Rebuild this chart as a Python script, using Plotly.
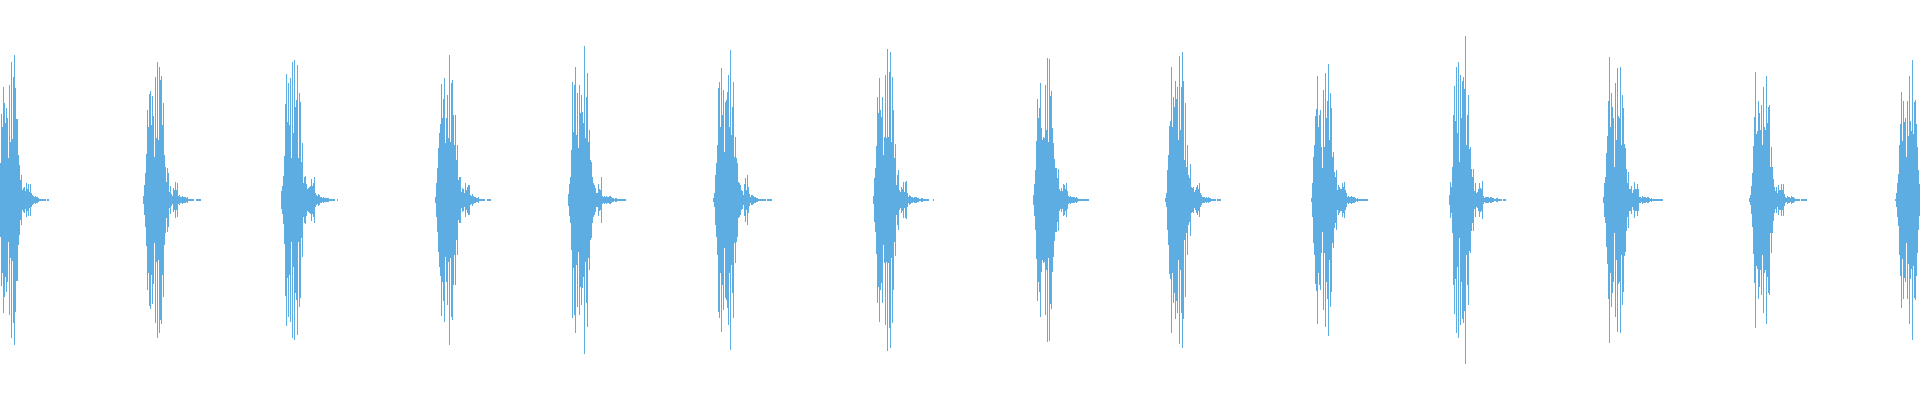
"""
plot.py - audio waveform overview: fourteen percussive hits, drawn as
mirrored per-pixel peak bars around a zero line.
"""
import plotly.graph_objects as go

WAVE_COLOR = "#5dade2"
N_COLS = 1920          # one column of peak data per screen pixel

# column where each hit begins
HIT_START = [0, 143, 281, 435, 568, 713, 873, 1033, 1165, 1311, 1449, 1603, 1749, 1895]

# peak amplitude per column (0 = silent column)
HIT_01 = [37, 86, 73, 113, 97, 77, 92, 82, 42, 115, 58, 138, 61, 123, 145, 112, 81, 81, 45, 35,
          20, 25, 10, 12, 13, 9, 17, 11, 16, 8, 16, 7, 5, 4, 3, 4, 3, 3, 2, 1, 1, 1, 1, 1, 1, 1, 0, 1, 1]
HIT_02 = [4, 15, 27, 46, 90, 73, 106, 109, 75, 104, 84, 43, 123, 62, 138, 60, 133, 120, 124, 75,
          97, 45, 33, 18, 32, 27, 8, 14, 6, 4, 12, 10, 18, 10, 17, 4, 5, 3, 3, 4, 3, 3, 3, 2, 3,
          1, 1, 1, 1, 1, 1, 0, 0, 1, 1, 1, 1, 1]
HIT_03 = [9, 14, 24, 44, 96, 126, 78, 117, 75, 122, 42, 138, 67, 140, 93, 100, 135, 42, 107, 98,
          38, 57, 17, 23, 24, 16, 11, 12, 13, 14, 21, 14, 17, 23, 7, 5, 4, 6, 5, 3, 3, 2, 3, 2, 2,
          2, 2, 2, 1, 1, 1, 1, 1, 1, 0, 0, 1]
HIT_04 = [3, 17, 32, 52, 67, 76, 116, 82, 101, 122, 57, 82, 105, 62, 145, 58, 117, 120, 85, 55,
          85, 40, 55, 20, 23, 23, 8, 12, 11, 7, 17, 10, 13, 15, 15, 5, 4, 6, 4, 3, 3, 2, 2, 3, 1,
          1, 1, 1, 1, 1, 0, 0, 1, 1, 1, 1]
HIT_05 = [6, 16, 23, 50, 118, 68, 115, 133, 65, 107, 52, 115, 87, 105, 88, 77, 154, 62, 103, 127,
          58, 70, 40, 38, 23, 17, 15, 12, 7, 7, 16, 11, 10, 23, 4, 3, 4, 3, 4, 3, 3, 4, 4, 3, 2,
          2, 1, 2, 2, 1, 1, 1, 1, 1, 1, 1, 1, 1]
HIT_06 = [2, 7, 25, 37, 55, 112, 118, 73, 132, 85, 110, 48, 98, 100, 108, 125, 73, 150, 65, 93,
          118, 43, 63, 42, 37, 18, 17, 15, 10, 9, 5, 16, 22, 10, 25, 13, 6, 3, 5, 5, 4, 3, 3, 2, 2,
          1, 1, 1, 1, 1, 1, 1, 1, 0, 1, 1, 1, 1, 1]
HIT_07 = [4, 22, 32, 54, 103, 87, 122, 90, 83, 103, 45, 63, 125, 62, 151, 63, 128, 148, 58, 123,
          90, 42, 56, 15, 25, 30, 10, 8, 13, 11, 18, 8, 18, 19, 7, 3, 5, 4, 3, 3, 2, 3, 3, 3, 2,
          2, 1, 1, 2, 2, 1, 1, 1, 1, 1, 1, 0, 0, 0, 0, 1]
HIT_08 = [5, 16, 30, 59, 101, 82, 92, 117, 72, 60, 63, 62, 115, 70, 142, 58, 141, 104, 109, 72,
          57, 41, 32, 32, 22, 31, 11, 9, 12, 9, 16, 15, 11, 17, 9, 4, 3, 4, 3, 3, 3, 3, 2, 3, 2,
          1, 1, 1, 1, 1, 1, 1, 1, 1, 1, 1]
HIT_09 = [2, 7, 30, 45, 74, 79, 133, 73, 103, 93, 119, 101, 113, 60, 144, 70, 113, 148, 119, 40,
          97, 33, 55, 25, 22, 36, 13, 12, 13, 8, 10, 13, 15, 11, 17, 7, 5, 3, 3, 3, 2, 3, 2, 3, 2,
          2, 1, 1, 1, 1, 1, 0, 1, 1, 1, 1]
HIT_10 = [2, 17, 43, 55, 84, 91, 124, 73, 85, 90, 53, 32, 110, 53, 127, 82, 99, 136, 60, 107,
          92, 43, 48, 28, 23, 30, 10, 15, 13, 11, 11, 17, 13, 18, 10, 7, 3, 4, 3, 3, 4, 3, 3, 3, 2,
          1, 2, 1, 1, 1, 1, 1, 1, 1, 1, 1, 1]
HIT_11 = [5, 18, 13, 33, 85, 114, 79, 133, 67, 138, 38, 125, 82, 119, 123, 111, 164, 55, 85, 105,
          51, 53, 31, 23, 31, 9, 17, 7, 8, 11, 17, 12, 11, 19, 4, 2, 3, 3, 3, 3, 2, 3, 3, 2, 2,
          1, 1, 2, 2, 1, 1, 1, 1, 0, 1, 1, 1]
HIT_12 = [3, 17, 23, 47, 64, 99, 143, 73, 107, 93, 82, 33, 117, 60, 132, 84, 82, 133, 55, 105,
          92, 56, 52, 31, 17, 28, 11, 11, 14, 7, 10, 18, 11, 11, 16, 11, 3, 3, 2, 4, 3, 3, 3, 2, 3,
          3, 2, 1, 2, 1, 1, 1, 1, 1, 1, 1, 1, 1, 1, 1]
HIT_13 = [2, 5, 14, 27, 54, 83, 128, 66, 69, 99, 87, 70, 95, 55, 113, 73, 70, 124, 77, 93,
          95, 33, 53, 33, 21, 13, 9, 13, 7, 15, 10, 10, 16, 10, 16, 6, 3, 2, 4, 3, 3, 2, 4, 3, 3,
          2, 1, 1, 1, 1, 1, 0, 1, 1, 1, 1, 1, 1]
HIT_14 = [1, 7, 17, 26, 55, 76, 108, 59, 99, 78, 82, 43, 99, 64, 124, 79, 69, 140, 66, 98,
          100, 76, 53, 30, 16]

HITS = [HIT_01, HIT_02, HIT_03, HIT_04, HIT_05, HIT_06, HIT_07,
        HIT_08, HIT_09, HIT_10, HIT_11, HIT_12, HIT_13, HIT_14]

# lay the hits out on the pixel grid
peaks = [0] * N_COLS
for start, hit in zip(HIT_START, HITS):
    for i, a in enumerate(hit):
        if start + i < N_COLS:
            peaks[start + i] = a

cols = [c for c in range(N_COLS) if peaks[c] > 0]
amps = [peaks[c] for c in cols]

fig = go.Figure(go.Bar(
    x=cols,
    y=[2 * a for a in amps],
    base=[-a for a in amps],     # mirrored around the zero line
    width=1,
    marker=dict(color=WAVE_COLOR, line=dict(width=0)),
    hoverinfo="skip",
))

fig.update_layout(
    width=1920,
    height=400,
    margin=dict(l=0, r=0, t=0, b=0),
    paper_bgcolor="white",
    plot_bgcolor="white",
    showlegend=False,
    bargap=0,
    xaxis=dict(range=[-0.5, N_COLS - 0.5], visible=False, fixedrange=True),
    yaxis=dict(range=[-200, 200], visible=False, fixedrange=True),
)

# drop the browser's default 8px body margin so the plot sits flush in the window
fig.write_html(
    "out.html",
    config={"displayModeBar": False},
    post_script="document.body.style.margin = '0';",
)
